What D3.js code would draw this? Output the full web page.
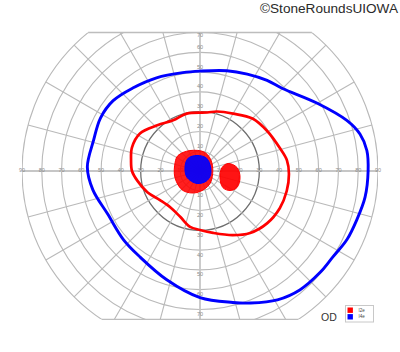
<!DOCTYPE html>
<html>
<head>
<meta charset="utf-8">
<script src="https://cdn.jsdelivr.net/npm/d3@7"></script>
<style>
  body { margin: 0; background: #fff; }
  svg { display: block; }
</style>
</head>
<body>
<svg id="chart" width="400" height="352"></svg>
<script>
// goldmann visual field, right eye (OD)
// each isopter: meridian angle (deg, 0 = right, ccw) and eccentricity (deg)

const i4eAngle = [0, 7, 13, 19, 30, 45, 53.5, 64, 75, 90, 100, 115, 129, 141, 152, 164, 178, 190, 205, 222, 235, 253, 270, 284, 291, 301, 310, 320, 327, 335, 342.5, 351];
const i4eEcc   = [85, 85, 83, 78.5, 68.5, 59, 57, 54.5, 52.5, 50.5, 50.5, 52, 54, 56.5, 57, 56, 57, 55, 51.5, 52, 53, 57.5, 64, 68.5, 71.5, 76, 78.5, 79.5, 80, 82, 83, 84.5];

const i2eAngle = [7, 16, 31, 45, 60, 74, 83, 103, 118, 133, 148, 161, 171, 180, 189, 202, 216, 231, 247, 260, 270, 282, 297, 309, 322, 335, 347, 358];
const i2eEcc   = [44.3, 42, 39.5, 37.5, 33.5, 31.3, 29.8, 29.8, 29, 31.6, 35.8, 36.4, 35.3, 34.4, 32, 28.7, 25, 23.7, 25.3, 28.7, 29.8, 32, 36.4, 40.3, 43, 44.5, 45, 45];

// central scotomas
const i2eScotAngle = [32, 75, 116, 145, 161, 195, 229, 262, 309];
const i2eScotEcc   = [7.2, 9.7, 11.5, 13.6, 13.3, 13.1, 13.1, 11, 8.1];
const i4eScotAngle = [61, 101, 134, 167, 207, 257, 306, 352];
const i4eScotEcc   = [7.2, 8, 8.8, 7.8, 7.3, 6.5, 6, 5.6];

// blind spot (I2e)
const blindAngle = [9, 15, 5.4, 351, 336, 327, 324, 342];
const blindEcc   = [11.3, 14.7, 18.8, 20.5, 20.5, 18.1, 14.3, 10.6];

const rings = [10, 20, 30, 40, 50, 60, 70, 80, 90];
const meridians = d3.range(0, 360, 15);
const hLabels = [10, 20, 30, 40, 50, 60, 70, 80, 90];
const vLabels = [10, 20, 30, 40, 50, 60, 70];
const legendKeys = ["I2e", "I4e"];
const legendColors = ["#ff0000", "#0000ff"];

const svg = d3.select("#chart");
const cx = 200, cy = 171;
const r = d3.scaleLinear().domain([0, 90]).range([0, 178]);
const topLimit = 70, bottomLimit = 75; // chart cut top/bottom

const rad = a => a * Math.PI / 180;
function xy(a, e) {
    return [cx + r(e) * Math.cos(rad(a)), cy - r(e) * Math.sin(rad(a))];
}

// clip: outer circle between the two chords
const defs = svg.append("defs");
defs.append("clipPath").attr("id", "field")
    .append("rect")
    .attr("x", cx - r(90)).attr("width", r(180))
    .attr("y", cy - r(topLimit)).attr("height", r(topLimit) + r(bottomLimit));

const grid = svg.append("g").attr("clip-path", "url(#field)");

grid.selectAll("circle.ring")
    .data(rings)
    .enter().append("circle")
    .attr("class", "ring")
    .attr("cx", cx).attr("cy", cy)
    .attr("r", d => r(d))
    .attr("fill", "none")
    .attr("stroke", d => d === 30 ? "#6e6e6e" : "#b9b9b9")
    .attr("stroke-width", d => d === 30 ? 1.3 : 1.1);

grid.selectAll("line.meridian")
    .data(meridians.filter(d => d % 90 !== 0))
    .enter().append("line")
    .attr("class", "meridian")
    .attr("x1", cx).attr("y1", cy)
    .attr("x2", d => xy(d, 90)[0])
    .attr("y2", d => xy(d, 90)[1])
    .attr("stroke", "#b9b9b9")
    .attr("stroke-width", 1.1);

// main axes
grid.append("line")
    .attr("x1", cx - r(90)).attr("x2", cx + r(90))
    .attr("y1", cy).attr("y2", cy)
    .attr("stroke", "#c6c6c6").attr("stroke-width", 1.8);
grid.append("line")
    .attr("x1", cx).attr("x2", cx)
    .attr("y1", cy - r(topLimit)).attr("y2", cy + r(bottomLimit))
    .attr("stroke", "#c6c6c6").attr("stroke-width", 1.8);

// the two chords closing the field
[[-topLimit], [bottomLimit]].forEach(function (d) {
    const dy = r(d[0]);
    const dx = Math.sqrt(r(90) * r(90) - dy * dy);
    svg.append("line")
        .attr("x1", cx - dx).attr("x2", cx + dx)
        .attr("y1", cy + dy).attr("y2", cy + dy)
        .attr("stroke", "#bdbdbd").attr("stroke-width", 1.4);
});

// axis labels
const lab = svg.append("g")
    .style("font-family", "Liberation Sans, Arial, sans-serif")
    .style("font-size", "5.5px")
    .attr("fill", "#8c8c8c")
    .attr("text-anchor", "middle")
    .attr("dominant-baseline", "middle");

hLabels.forEach(function (d) {
    lab.append("text").attr("x", cx - r(d)).attr("y", cy).text(d);
    lab.append("text").attr("x", cx + r(d)).attr("y", cy).text(d);
});
vLabels.forEach(function (d) {
    const up = Math.min(d + 2.5, topLimit - 1.5);
    lab.append("text").attr("x", cx).attr("y", cy - r(up)).text(d);
    lab.append("text").attr("x", cx).attr("y", cy + r(d + 2.5)).text(d);
});

// isopters
function pts(angles, eccs) {
    return angles.map((a, i) => ({ a: a, e: eccs[i] }));
}
const radial = d3.lineRadial()
    .angle(d => rad(90 - d.a))
    .radius(d => r(d.e))
    .curve(d3.curveCatmullRomClosed.alpha(0.5));

const plot = svg.append("g").attr("transform", `translate(${cx},${cy})`);

plot.append("path")
    .attr("d", radial(pts(i2eScotAngle, i2eScotEcc)))
    .attr("fill", "#ff0000").attr("fill-opacity", 0.88)
    .attr("stroke", "#ff0000").attr("stroke-width", 1);

plot.append("path")
    .attr("d", radial(pts(blindAngle, blindEcc)))
    .attr("fill", "#ff0000").attr("fill-opacity", 0.92)
    .attr("stroke", "#ff0000").attr("stroke-width", 1);

plot.append("path")
    .attr("d", radial(pts(i4eScotAngle, i4eScotEcc)))
    .attr("fill", "#0000ff").attr("fill-opacity", 0.92)
    .attr("stroke", "#0000ff").attr("stroke-width", 1);

plot.append("path")
    .attr("d", radial(pts(i2eAngle, i2eEcc)))
    .attr("fill", "none")
    .attr("stroke", "#ff0000").attr("stroke-width", 2.7);

plot.append("path")
    .attr("d", radial(pts(i4eAngle, i4eEcc)))
    .attr("fill", "none")
    .attr("stroke", "#0000ff").attr("stroke-width", 2.9);

// titles
svg.append("text")
    .attr("x", 398).attr("y", 13)
    .attr("text-anchor", "end")
    .style("font-family", "Liberation Sans, Arial, sans-serif")
    .style("font-size", "13.6px")
    .attr("fill", "#2a2a2a")
    .text("\u00A9StoneRoundsUIOWA");

svg.append("text")
    .attr("x", 321).attr("y", 321)
    .style("font-family", "Liberation Sans, Arial, sans-serif")
    .style("font-size", "10.5px")
    .attr("fill", "#333")
    .text("OD");

// legend
const legend = svg.append("g").attr("transform", "translate(345.5,305.5)");
legend.append("rect")
    .attr("width", 28).attr("height", 16.5)
    .attr("fill", "#fff").attr("stroke", "#c8c8c8");
legendKeys.forEach(function (k, i) {
    legend.append("rect")
        .attr("x", 2).attr("y", 2 + i * 6.6)
        .attr("width", 5.4).attr("height", 5.4)
        .attr("fill", legendColors[i]);
    legend.append("text")
        .attr("x", 13).attr("y", 4.9 + i * 6.6)
        .attr("dominant-baseline", "middle")
        .style("font-family", "Liberation Sans, Arial, sans-serif")
        .style("font-size", "4.5px")
        .attr("fill", "#444")
        .text(k);
});
</script>
</body>
</html>
